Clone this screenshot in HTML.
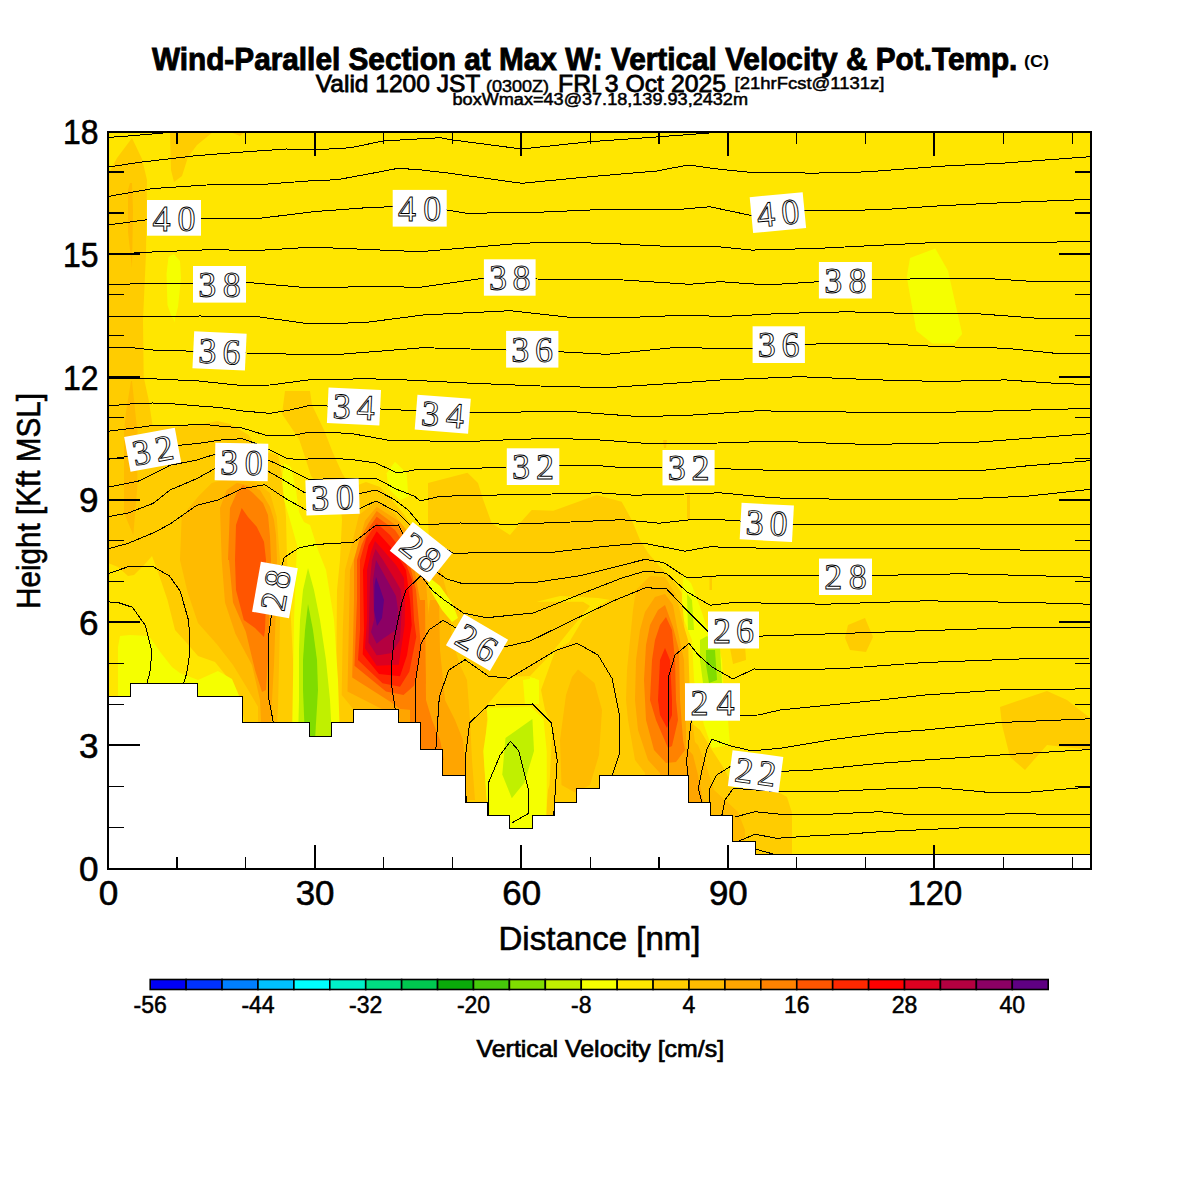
<!DOCTYPE html><html><head><meta charset="utf-8"><title>Wind-Parallel Section</title>
<style>html,body{margin:0;padding:0;background:#fff;}svg{display:block;}.s{font-family:"Liberation Sans",Arial,sans-serif;}.lab{font-family:"Liberation Serif","Times New Roman",serif;fill:none;stroke:#000;stroke-width:0.9px;}</style></head><body>
<svg width="1200" height="1200" viewBox="0 0 1200 1200">
<rect width="1200" height="1200" fill="#fff"/>
<defs><clipPath id="pc"><rect x="108" y="132" width="983" height="737"/></clipPath></defs>
<g clip-path="url(#pc)">
<rect x="108" y="132" width="983" height="737" fill="#FFE600"/>
<polygon points="108.0,175.0 117.0,158.0 132.0,138.0 142.0,159.0 147.0,180.0 146.0,253.0 143.0,320.0 143.7,377.0 148.7,400.0 152.5,425.0 173.0,427.0 198.7,425.0 217.5,421.0 230.0,424.0 248.7,435.0 257.0,450.0 267.0,452.0 278.0,455.0 283.0,480.0 286.0,517.0 287.0,560.0 290.0,600.0 292.0,640.0 294.0,680.0 296.0,740.0 248.0,740.0 240.0,698.0 228.0,678.0 215.0,662.0 198.0,656.0 185.0,641.0 175.0,630.0 167.5,600.0 158.0,572.0 152.0,556.0 145.0,564.0 134.0,575.0 128.0,576.0 118.0,567.0 108.0,563.0" fill="#FFCC00"/>
<polygon points="170.0,132.0 213.0,132.0 197.0,145.0 188.0,157.0 182.0,176.0 174.0,182.0 171.0,170.0" fill="#FFCC00"/>
<polygon points="230.0,132.0 244.6,132.0 240.0,136.0" fill="#FFCC00"/>
<polygon points="285.0,391.0 310.0,391.0 312.0,405.0 324.0,430.0 333.0,453.0 342.5,474.0 350.0,485.0 345.0,492.0 325.0,490.0 311.0,476.0 306.0,460.0 299.0,439.0 282.0,414.0" fill="#FFCC00"/>
<polygon points="340.0,500.0 353.0,487.0 366.0,482.0 380.0,487.0 392.0,500.0 402.0,512.0 415.0,530.0 430.0,545.0 450.0,560.0 465.0,600.0 462.0,650.0 455.0,700.0 448.0,760.0 336.0,760.0 336.0,700.0 337.0,590.0 340.0,560.0 342.0,520.0" fill="#FFCC00"/>
<polygon points="428.0,483.0 467.5,472.7 478.0,483.0 483.3,500.0 491.7,523.3 510.0,535.0 520.0,523.0 531.7,510.0 553.3,510.8 596.7,495.0 621.7,501.7 631.7,520.0 640.0,540.0 648.3,553.3 660.0,566.7 673.3,580.0 681.7,593.3 684.0,620.0 686.0,700.0 690.0,740.0 700.0,760.0 712.0,800.0 700.0,830.0 440.0,830.0 436.0,700.0 433.0,600.0 430.0,560.0 428.0,520.0" fill="#FFCC00"/>
<polygon points="663.0,440.0 667.0,440.0 666.0,448.0 664.0,448.0" fill="#FFCC00"/>
<polygon points="687.0,495.0 690.0,495.0 690.0,520.0 687.0,520.0" fill="#FFCC00"/>
<polygon points="709.5,576.0 712.0,576.0 712.0,590.0 709.5,590.0" fill="#FFCC00"/>
<polygon points="688.0,720.0 700.0,730.0 712.0,750.0 725.0,770.0 733.0,788.0 755.0,788.0 780.0,793.0 787.0,797.0 792.0,813.0 792.0,860.0 688.0,860.0" fill="#FFCC00"/>
<polygon points="848.0,625.0 865.0,618.0 873.0,637.0 866.0,652.0 850.0,650.0 845.0,638.0" fill="#FFCC00"/>
<polygon points="1000.0,707.0 1047.0,691.0 1067.0,700.0 1090.0,718.0 1090.0,750.0 1047.0,745.0 1025.0,770.0 1010.0,757.0 1002.0,725.0" fill="#FFCC00"/>
<polygon points="730.0,648.0 745.0,645.0 746.0,660.0 733.0,664.0" fill="#FFCC00"/>
<polygon points="536.7,601.7 583.0,601.7 590.0,606.0 570.0,630.0 550.0,655.0 530.0,676.0 511.7,676.7 500.0,690.0 487.0,705.0 487.0,720.0 484.0,760.0 487.0,800.0 492.0,814.0 546.0,814.0 548.0,790.0 549.5,785.0 552.5,725.0 545.0,710.0 541.0,690.0 555.5,650.0 569.0,642.5 582.5,620.0 600.0,605.0 610.0,600.0 598.0,598.0 560.0,596.0" fill="#FFE600"/>
<polygon points="130.0,183.0 132.0,183.0 133.0,211.0 132.0,268.0 128.0,232.0 128.0,190.0" fill="#FFBB00"/>
<polygon points="131.0,381.0 132.0,381.0 136.0,419.0 137.5,431.0 137.3,487.0 133.3,535.0 124.0,513.0 124.0,431.0 126.0,412.0" fill="#FFBB00"/>
<polygon points="376.7,501.0 395.3,515.0 405.8,532.5 420.0,545.0 435.0,565.0 438.5,660.0 442.0,740.0 353.0,740.0 353.3,709.0 341.7,695.0 342.8,630.0 345.0,570.0 353.3,538.3 359.0,515.0" fill="#FFBB00"/>
<polygon points="181.7,516.7 198.0,496.7 211.7,483.0 226.7,479.0 240.0,480.0 256.7,483.0 270.0,493.0 276.7,516.7 280.0,560.0 280.0,623.0 278.0,706.7 276.0,740.0 258.0,740.0 258.0,706.7 245.8,686.0 233.0,665.0 216.7,644.0 198.0,623.0 187.5,592.0 180.0,560.0" fill="#FFBB00"/>
<polygon points="578.0,669.5 594.5,683.0 602.0,710.0 599.0,755.0 590.0,785.0 575.0,792.5 561.5,785.0 560.0,740.0 566.0,695.0 572.0,677.0" fill="#FFBB00"/>
<polygon points="636.0,590.0 650.0,576.0 665.0,577.0 676.0,595.0 682.0,620.0 688.0,640.0 690.0,700.0 692.0,720.0 696.0,750.0 700.0,790.0 700.0,810.0 645.0,810.0 645.0,773.0 635.0,760.0 628.0,720.0 626.0,700.0 627.0,670.0 630.0,640.0 633.0,610.0" fill="#FFBB00"/>
<polygon points="438.0,560.0 449.0,600.0 452.0,640.0 460.0,665.0 467.0,680.0 470.0,720.0 472.0,760.0 475.0,800.0 430.0,800.0 430.0,600.0" fill="#FFBB00"/>
<polygon points="688.0,735.0 698.0,745.0 706.0,765.0 714.0,790.0 725.0,800.0 738.0,812.0 745.0,830.0 745.0,860.0 688.0,860.0" fill="#FFBB00"/>
<polygon points="376.7,506.8 400.0,522.0 415.0,540.0 425.0,570.0 430.3,636.7 431.5,706.7 428.0,740.0 400.0,740.0 400.0,718.3 347.5,691.5 350.0,570.0 356.8,550.0 365.0,520.8" fill="#FFA500"/>
<polygon points="220.0,508.0 226.7,490.0 236.7,483.0 246.7,485.0 260.0,490.0 270.0,506.7 274.0,520.0 276.0,535.0 277.0,560.0 276.0,600.0 275.0,635.0 274.0,665.0 272.0,700.0 270.0,740.0 262.0,740.0 260.0,700.0 252.0,665.0 235.4,633.8 225.0,602.5 221.7,560.0" fill="#FFA500"/>
<polygon points="645.0,612.0 655.0,597.0 665.0,594.0 673.0,605.0 677.0,627.0 684.0,660.0 685.0,700.0 686.0,730.0 686.0,750.0 696.0,790.0 696.0,810.0 660.0,810.0 660.0,773.0 648.0,760.0 638.0,730.0 635.0,700.0 636.0,660.0 640.0,630.0" fill="#FFA500"/>
<polygon points="430.0,600.0 439.0,600.0 440.0,650.0 445.0,700.0 455.0,720.0 463.0,740.0 466.0,775.0 466.0,800.0 420.0,800.0 420.0,680.0" fill="#FFA500"/>
<polygon points="684.0,745.0 693.0,755.0 698.0,775.0 703.0,800.0 700.0,860.0 684.0,860.0" fill="#FFA500"/>
<polygon points="376.7,511.0 398.0,527.0 410.0,545.0 420.0,600.0 423.3,613.3 425.7,683.3 411.7,710.0 400.0,709.0 390.7,702.0 352.2,677.5 354.0,600.0 354.0,560.0 359.2,540.0 368.5,523.2" fill="#FF8200"/>
<polygon points="228.0,560.0 230.0,508.0 236.7,493.0 243.0,485.0 253.0,493.0 263.0,503.0 268.0,515.0 270.0,537.0 271.0,560.0 270.0,590.0 269.0,620.0 268.0,660.0 266.0,690.0 262.0,692.0 255.0,670.0 245.8,631.7 233.0,602.5 229.0,560.0" fill="#FF8200"/>
<polygon points="650.0,625.0 658.0,610.0 665.0,605.0 673.0,627.0 679.0,650.0 680.0,700.0 683.0,740.0 685.0,750.0 676.0,762.0 666.0,763.0 654.0,750.0 646.0,720.0 644.0,680.0 646.0,645.0" fill="#FF8200"/>
<polygon points="418.0,600.0 425.0,600.0 425.5,650.0 426.0,700.0 432.0,720.0 440.0,740.0 444.0,760.0 410.0,760.0 410.0,700.0" fill="#FF8200"/>
<polygon points="376.7,516.8 395.0,530.0 405.0,545.0 416.0,590.0 418.7,620.0 421.0,648.3 414.0,685.7 403.5,695.0 386.0,691.5 354.5,665.8 357.0,600.0 357.0,560.0 361.5,545.0 369.7,526.7" fill="#FF5500"/>
<polygon points="235.0,560.0 236.0,525.0 241.7,508.0 248.0,517.0 256.7,526.7 264.0,541.7 266.0,560.0 266.0,600.0 265.0,630.0 264.0,637.0 255.0,628.0 243.8,620.0 236.0,590.0" fill="#FF5500"/>
<polygon points="655.0,640.0 660.0,625.0 666.0,617.0 672.0,630.0 675.0,660.0 676.0,700.0 678.0,720.0 672.0,746.0 668.0,748.0 656.0,720.0 650.0,700.0 652.0,660.0" fill="#FF5500"/>
<polygon points="376.7,523.2 390.0,535.0 400.0,548.0 412.0,580.0 414.0,620.0 416.3,636.7 409.3,671.7 400.0,686.8 382.5,683.3 358.0,660.0 360.0,630.0 360.0,560.0 366.2,538.3" fill="#FF2800"/>
<polygon points="665.0,648.0 670.0,660.0 672.0,700.0 672.0,715.0 667.0,728.0 660.0,715.0 658.0,700.0 660.0,660.0" fill="#FF2800"/>
<polygon points="376.7,531.3 388.3,544.2 395.3,552.3 406.0,570.0 410.0,600.0 411.7,625.0 407.0,655.3 400.0,676.3 379.0,674.0 362.7,654.2 364.0,630.0 363.0,570.0 368.5,545.3" fill="#FF0000"/>
<polygon points="375.0,541.0 383.0,550.0 396.0,565.0 404.0,578.0 405.0,600.0 404.7,625.0 398.8,664.7 376.7,665.8 365.0,648.3 367.0,620.0 367.0,570.0 371.0,552.0" fill="#DC0020"/>
<polygon points="375.5,549.0 383.0,560.0 394.0,578.0 401.0,590.0 402.0,605.0 400.0,640.0 392.0,653.0 380.0,655.0 376.7,655.3 368.5,642.5 370.0,580.0 372.0,560.0" fill="#B40040"/>
<polygon points="376.0,560.0 386.0,578.0 396.0,596.0 398.0,610.0 396.0,630.0 382.5,639.0 376.7,643.7 371.0,632.0 374.0,620.0 373.0,580.0" fill="#8C0064"/>
<polygon points="376.0,577.0 380.0,588.0 384.0,600.0 382.0,618.0 377.0,626.0 374.0,610.0 374.5,585.0" fill="#5F0082"/>
<polygon points="168.7,300.0 177.5,300.0 174.4,322.5" fill="#F5FF00"/>
<polygon points="173.8,254.0 180.0,261.0 181.0,278.0 178.0,307.0 175.0,318.0 172.0,318.0 167.5,305.0 166.5,274.0 168.5,257.0" fill="#F5FF00"/>
<polygon points="910.0,258.0 935.3,248.5 948.0,270.7 962.2,334.0 954.3,343.5 932.2,343.5 916.3,330.8 906.8,277.0" fill="#F5FF00"/>
<polygon points="120.0,636.0 130.0,635.0 149.0,636.0 161.0,653.0 172.0,667.0 180.0,673.0 198.0,680.0 218.0,671.0 232.0,679.0 240.0,698.0 240.0,740.0 118.0,740.0 118.0,673.0 118.0,647.0" fill="#F5FF00"/>
<polygon points="284.0,463.0 291.0,467.0 296.0,490.0 299.0,512.0 304.0,522.0 310.0,525.0 318.0,550.0 326.0,570.0 334.0,620.0 338.0,680.0 340.0,740.0 292.0,740.0 293.0,680.0 294.0,620.0 296.0,570.0 297.0,545.0 290.0,520.0 284.0,500.0 282.0,480.0" fill="#F5FF00"/>
<polygon points="430.0,578.0 440.0,586.0 452.0,603.0 458.0,618.0 452.0,622.0 442.0,610.0 433.0,595.0 428.0,585.0" fill="#F5FF00"/>
<polygon points="486.5,708.0 530.8,706.5 543.5,719.0 546.7,751.0 546.7,798.0 546.0,830.0 491.0,830.0 486.5,798.0 483.3,751.0 488.0,719.0" fill="#F5FF00"/>
<polygon points="523.0,680.0 535.0,678.0 539.0,703.0 525.0,705.0" fill="#F5FF00"/>
<polygon points="530.0,677.0 539.0,680.0 539.0,704.0 530.0,704.0" fill="#F5FF00"/>
<polygon points="683.3,576.0 691.0,583.0 700.0,606.7 706.0,625.0 716.0,636.0 722.0,660.0 724.0,700.0 728.0,720.0 730.0,745.0 712.0,748.0 704.0,725.0 698.0,700.0 694.0,680.0 693.0,660.0 692.0,640.0 684.0,620.0 682.0,600.0" fill="#F5FF00"/>
<polygon points="395.0,461.7 406.7,473.3 408.3,496.7 400.0,500.0 388.3,488.3 386.7,473.3" fill="#F5FF00"/>
<polygon points="308.0,568.0 314.0,590.0 320.0,620.0 326.0,660.0 330.0,700.0 332.0,740.0 298.0,740.0 299.0,700.0 299.0,650.0 300.0,620.0 303.0,590.0" fill="#C0F000"/>
<polygon points="532.4,719.0 534.0,751.0 524.5,782.5 511.8,798.3 502.3,774.6 505.5,738.0" fill="#C0F000"/>
<polygon points="687.0,594.0 692.0,600.0 694.0,630.0 688.0,630.0" fill="#C0F000"/>
<polygon points="700.0,640.0 707.0,636.0 720.0,648.0 722.0,683.0 703.0,683.0 700.0,660.0" fill="#C0F000"/>
<polygon points="308.0,604.0 313.0,630.0 317.0,660.0 318.0,690.0 315.0,740.0 305.0,740.0 303.0,690.0 303.0,660.0 305.0,630.0" fill="#80DC00"/>
<polygon points="706.0,650.0 715.0,650.0 717.0,680.0 709.0,683.0 706.0,665.0" fill="#80DC00"/>
<polyline points="108.0,137.5 132.0,135.7 175.0,132.0" fill="none" stroke="#000" stroke-width="1" shape-rendering="crispEdges"/>
<polyline points="108.0,167.0 140.0,162.3 196.0,155.7 246.7,151.7 286.7,149.0 316.0,149.8 350.7,147.7 383.0,141.0 440.0,137.7 453.0,140.0 521.7,149.0 590.0,141.7 660.0,136.7 723.0,132.0" fill="none" stroke="#000" stroke-width="1" shape-rendering="crispEdges"/>
<polyline points="108.0,196.5 153.3,188.5 206.7,185.0 265.3,184.2 308.0,181.0 337.3,179.7 366.7,174.3 398.3,168.3 420.0,169.8 450.0,173.3 521.7,183.3 590.0,176.7 656.7,171.0 688.3,165.0 720.0,169.3 751.7,172.5 815.0,173.1 865.7,171.9 941.7,166.2 1005.0,163.0 1090.0,156.7" fill="none" stroke="#000" stroke-width="1" shape-rendering="crispEdges"/>
<polyline points="108.0,225.0 147.0,219.7 201.0,218.3 260.0,218.3 313.3,211.7 366.7,207.7 391.7,206.7 446.7,210.0 466.7,213.3 536.7,212.3 606.7,209.3 673.3,210.0 710.0,206.7 720.0,208.9 750.0,215.2 805.5,210.5 878.3,209.9 941.7,205.7 1005.0,202.6 1090.0,199.4" fill="none" stroke="#000" stroke-width="1" shape-rendering="crispEdges"/>
<polyline points="108.0,255.0 140.0,252.5 206.7,249.8 260.0,250.3 313.3,247.1 340.0,248.3 420.0,251.7 520.0,243.3 553.3,242.3 606.7,243.3 673.3,246.7 720.0,246.9 751.7,250.1 815.0,248.5 878.3,245.3 941.7,242.2 1005.0,242.8 1090.0,241.5" fill="none" stroke="#000" stroke-width="1" shape-rendering="crispEdges"/>
<polyline points="108.0,285.0 153.3,283.0 193.0,283.0 246.0,282.3 300.0,287.1 340.0,287.3 366.7,286.3 420.0,287.3 483.3,278.3 536.7,279.0 623.3,280.0 690.0,284.3 720.0,281.7 767.5,284.9 818.8,281.7 872.0,279.5 941.7,278.6 989.0,278.6 1036.7,281.7 1090.0,281.7" fill="none" stroke="#000" stroke-width="1" shape-rendering="crispEdges"/>
<polyline points="108.0,317.0 130.0,316.0 152.5,317.0 200.0,316.0 260.0,317.0 308.0,323.7 340.0,323.3 366.7,322.3 423.3,315.0 510.0,310.7 573.3,317.7 623.3,317.7 690.0,315.0 720.0,316.6 783.3,313.4 846.7,311.8 910.0,313.4 973.3,313.4 1036.7,318.2 1090.0,318.8" fill="none" stroke="#000" stroke-width="1" shape-rendering="crispEdges"/>
<polyline points="108.0,347.5 130.0,347.5 152.5,350.0 186.0,351.0 246.0,353.0 313.3,354.7 340.0,354.3 423.3,347.7 506.0,350.0 558.3,351.7 606.7,354.3 673.3,347.7 720.0,348.2 752.0,349.0 804.9,344.1 878.3,343.5 941.7,346.7 1005.0,348.2 1052.5,353.0 1090.0,353.0" fill="none" stroke="#000" stroke-width="1" shape-rendering="crispEdges"/>
<polyline points="108.0,378.0 152.5,378.8 198.8,381.0 242.5,385.6 270.0,385.0 308.0,380.0 366.7,378.7 406.7,380.0 473.3,383.3 540.0,386.0 606.7,387.7 673.3,383.3 720.0,380.0 799.2,376.7 878.3,379.9 941.7,381.5 1005.0,379.9 1052.5,383.1 1090.0,384.7" fill="none" stroke="#000" stroke-width="1" shape-rendering="crispEdges"/>
<polyline points="108.0,406.0 130.0,404.0 152.5,403.0 172.5,403.8 198.8,406.0 220.0,407.5 242.5,411.0 270.0,413.3 290.0,410.0 308.3,405.8 327.0,406.0 380.8,409.0 416.7,410.8 470.7,412.3 573.3,411.7 640.0,416.7 690.0,415.2 757.5,410.8 825.0,411.8 926.3,412.8 1027.5,410.1 1090.0,408.4" fill="none" stroke="#000" stroke-width="1" shape-rendering="crispEdges"/>
<polyline points="108.0,431.3 153.3,425.5 170.0,425.3 206.7,424.7 219.3,426.0 242.0,428.0 266.0,435.3 290.0,436.0 310.0,432.0 350.0,433.3 391.7,440.8 420.0,440.8 465.0,441.7 510.0,439.7 553.3,438.3 600.0,440.0 645.0,443.3 690.0,443.9 733.0,442.5 774.4,441.2 868.9,444.5 976.9,442.2 1044.4,437.1 1090.0,433.7" fill="none" stroke="#000" stroke-width="1" shape-rendering="crispEdges"/>
<polyline points="108.0,459.3 124.0,457.0 179.3,445.3 199.3,443.3 220.7,440.0 242.0,438.7 255.3,443.3 268.7,449.3 287.3,458.7 298.0,459.3 333.3,458.3 353.3,459.7 376.0,463.0 397.3,473.0 420.0,469.0 450.0,469.0 475.0,468.3 506.7,467.0 559.2,465.3 600.0,465.8 621.7,467.5 662.0,468.0 715.0,468.5 791.2,470.9 892.5,470.9 976.9,470.9 1027.5,465.8 1090.0,460.7" fill="none" stroke="#000" stroke-width="1" shape-rendering="crispEdges"/>
<polyline points="108.0,487.3 140.0,480.7 170.0,465.3 196.7,460.0 214.7,454.4 268.0,460.0 288.0,469.0 308.7,479.3 357.3,478.3 376.0,478.3 396.0,489.0 414.7,496.3 420.0,501.0 440.0,496.3 486.7,495.2 552.0,494.0 598.7,492.8 633.7,495.2 685.0,494.0 720.0,492.8 774.4,497.9 858.7,499.6 943.1,499.6 1027.5,496.2 1090.0,489.4" fill="none" stroke="#000" stroke-width="1" shape-rendering="crispEdges"/>
<polyline points="108.0,516.7 128.2,513.0 153.3,503.3 170.0,490.0 196.7,478.7 214.7,468.7 267.3,470.7 286.0,481.5 304.7,492.7 358.7,493.7 376.0,490.0 393.3,499.0 408.0,509.7 420.0,524.3 433.3,524.3 460.0,523.0 510.0,524.3 570.7,522.0 622.0,519.7 659.3,523.2 690.0,519.8 720.0,519.7 740.0,521.0 793.0,524.2 892.5,524.9 976.9,524.9 1090.0,524.9" fill="none" stroke="#000" stroke-width="1" shape-rendering="crispEdges"/>
<polyline points="108.0,548.8 128.2,543.3 154.2,532.5 170.0,524.0 196.7,505.3 218.0,500.0 242.0,488.7 264.7,484.7 286.0,498.7 307.3,510.7 360.0,508.3 376.0,501.0 397.3,512.3 409.3,524.3 430.0,540.0 454.0,553.5 486.7,552.3 552.0,552.3 603.3,546.5 643.0,543.0 685.0,551.2 710.0,546.8 774.4,548.5 858.7,548.5 960.0,548.5 1027.5,550.2 1090.0,550.2" fill="none" stroke="#000" stroke-width="1" shape-rendering="crispEdges"/>
<polyline points="108.0,573.7 130.3,566.0 152.0,566.0 169.3,575.8 180.2,591.0 188.8,621.3 190.0,651.7 186.7,673.3 183.4,684.0" fill="none" stroke="#000" stroke-width="1" shape-rendering="crispEdges"/>
<polyline points="273.3,722.0 268.0,695.0 268.0,640.8 271.2,617.0 275.0,590.0 284.2,557.4 299.3,547.7 316.7,544.4 353.5,542.3 375.3,525.7 398.7,525.0 402.7,533.7 420.0,555.0 438.5,573.3 446.7,579.0 463.3,583.8 533.3,582.7 580.0,575.7 626.7,564.0 645.3,559.3 664.0,562.8 687.3,578.0 723.7,575.5 819.0,575.5 872.3,575.5 960.0,573.8 1027.5,575.5 1090.0,577.2" fill="none" stroke="#000" stroke-width="1" shape-rendering="crispEdges"/>
<polyline points="108.0,601.8 119.5,603.0 132.5,607.3 145.5,625.7 152.0,651.7 149.8,673.3 146.6,684.0" fill="none" stroke="#000" stroke-width="1" shape-rendering="crispEdges"/>
<polyline points="395.3,710.0 391.3,683.3 391.8,662.3 394.0,640.0 398.0,620.0 402.0,602.0 406.0,590.0 421.0,575.7 432.7,590.8 444.3,600.0 463.3,613.0 486.7,617.7 533.3,613.0 580.0,594.3 622.0,578.0 645.3,571.0 666.3,573.3 687.3,592.0 710.0,605.2 733.9,602.5 825.0,604.2 926.3,600.8 1027.5,602.5 1090.0,604.2" fill="none" stroke="#000" stroke-width="1" shape-rendering="crispEdges"/>
<polyline points="415.2,723.0 415.2,683.3 418.7,660.0 421.0,643.7 429.2,629.7 443.2,620.3 476.0,640.0 504.7,646.8 530.3,641.0 568.3,622.3 615.0,600.2 645.3,587.8 666.3,588.5 682.7,606.0 696.7,620.0 708.3,631.7 735.0,633.0 757.5,636.2 858.7,632.9 960.0,629.5 1027.5,627.5 1090.0,627.5" fill="none" stroke="#000" stroke-width="1" shape-rendering="crispEdges"/>
<polyline points="435.8,750.0 439.3,697.0 448.7,670.2 465.0,659.7 488.3,676.0 509.3,678.3 532.7,664.3 556.0,650.3 577.0,643.3 598.0,655.0 612.0,678.3 619.0,713.3 619.0,755.3 612.0,776.0" fill="none" stroke="#000" stroke-width="1" shape-rendering="crispEdges"/>
<polyline points="668.0,776.0 668.0,678.3 675.0,655.0 689.0,643.3 698.3,655.0 712.0,667.0 733.0,679.0 754.0,669.0 800.0,670.0 850.0,668.0 925.0,662.5 1025.0,658.8 1090.0,658.0" fill="none" stroke="#000" stroke-width="1" shape-rendering="crispEdges"/>
<polyline points="466.2,802.0 465.0,760.0 469.7,722.7 488.3,705.2 532.7,704.0 551.3,722.7 557.2,760.0 553.7,816.0" fill="none" stroke="#000" stroke-width="1" shape-rendering="crispEdges"/>
<polyline points="488.3,816.0 488.3,783.3 500.0,755.3 510.5,741.3 518.7,750.7 528.0,788.0 528.0,813.7 511.7,823.0" fill="none" stroke="#000" stroke-width="1" shape-rendering="crispEdges"/>
<polyline points="689.0,802.0 686.7,760.0 691.3,720.3 712.0,702.0 740.0,715.3 758.3,715.0 780.0,710.0 830.0,705.0 880.0,700.0 925.0,695.0 1000.0,690.0 1090.0,688.8" fill="none" stroke="#000" stroke-width="1" shape-rendering="crispEdges"/>
<polyline points="701.7,802.0 698.3,788.3 701.7,771.7 706.7,750.0 711.7,739.2 730.0,745.8 751.7,750.8 780.0,748.3 830.0,740.0 880.0,733.3 925.0,730.0 1000.0,722.5 1090.0,718.8" fill="none" stroke="#000" stroke-width="1" shape-rendering="crispEdges"/>
<polyline points="709.2,802.0 710.0,788.3 716.7,775.0 730.0,766.7 781.7,771.3 813.3,770.0 846.7,766.7 880.0,763.3 925.0,760.0 1000.0,755.0 1090.0,749.5" fill="none" stroke="#000" stroke-width="1" shape-rendering="crispEdges"/>
<polyline points="721.7,816.0 725.0,800.0 733.3,788.3 778.3,791.7 813.3,791.7 846.7,790.8 880.0,789.2 935.0,787.5 990.0,792.5 1025.0,792.5 1090.0,787.0" fill="none" stroke="#000" stroke-width="1" shape-rendering="crispEdges"/>
<polyline points="735.0,817.0 755.0,811.7 780.0,814.2 813.3,815.0 846.7,813.3 880.0,811.7 912.5,815.0 1025.0,813.8 1090.0,815.0" fill="none" stroke="#000" stroke-width="1" shape-rendering="crispEdges"/>
<polyline points="736.7,842.0 755.0,834.2 776.7,838.3 813.3,835.8 846.7,834.2 880.0,831.7 970.0,827.5 1025.0,827.5 1090.0,828.0" fill="none" stroke="#000" stroke-width="1" shape-rendering="crispEdges"/>
<polyline points="755.8,849.2 776.7,855.0" fill="none" stroke="#000" stroke-width="1" shape-rendering="crispEdges"/>
<polygon points="106.0,870.0 106.0,696.4 130.5,696.4 130.5,683.2 152.8,683.2 152.8,683.2 175.1,683.2 175.1,683.2 197.4,683.2 197.4,696.4 219.8,696.4 219.8,696.4 242.1,696.4 242.1,722.8 264.4,722.8 264.4,722.8 286.7,722.8 286.7,722.8 309.0,722.8 309.0,736.0 331.3,736.0 331.3,722.8 353.6,722.8 353.6,709.6 375.9,709.6 375.9,709.6 398.2,709.6 398.2,722.8 420.5,722.8 420.5,749.2 442.8,749.2 442.8,775.6 465.2,775.6 465.2,802.0 487.5,802.0 487.5,815.2 509.8,815.2 509.8,828.4 532.1,828.4 532.1,815.2 554.4,815.2 554.4,802.0 576.7,802.0 576.7,788.8 599.0,788.8 599.0,775.6 621.3,775.6 621.3,775.6 643.6,775.6 643.6,775.6 666.0,775.6 666.0,775.6 688.3,775.6 688.3,802.0 710.6,802.0 710.6,815.2 732.9,815.2 732.9,841.6 755.2,841.6 755.2,854.8 777.5,854.8 777.5,854.8 799.8,854.8 799.8,854.8 822.1,854.8 822.1,854.8 844.4,854.8 844.4,854.8 866.7,854.8 866.7,854.8 889.0,854.8 889.0,854.8 911.4,854.8 911.4,854.8 933.7,854.8 933.7,854.8 956.0,854.8 956.0,854.8 978.3,854.8 978.3,854.8 1000.6,854.8 1000.6,854.8 1022.9,854.8 1022.9,854.8 1045.2,854.8 1045.2,854.8 1067.5,854.8 1067.5,854.8 1092.0,854.8 1092.0,870.0" fill="#fff" stroke="#000" stroke-width="1" shape-rendering="crispEdges"/>
</g>
<g transform="translate(174.0,217.9) rotate(0.0)"><rect x="-27.0" y="-17.9" width="54.0" height="35.7" fill="#fff"/><text class="lab" x="0" y="12.6" text-anchor="middle" font-size="36" textLength="43.2" lengthAdjust="spacing">40</text></g>
<g transform="translate(419.7,208.3) rotate(0.0)"><rect x="-27.0" y="-18.4" width="54.0" height="36.7" fill="#fff"/><text class="lab" x="0" y="12.6" text-anchor="middle" font-size="36" textLength="43.2" lengthAdjust="spacing">40</text></g>
<g transform="translate(777.9,212.6) rotate(-5.5)"><rect x="-26.6" y="-18.0" width="53.2" height="36.0" fill="#fff"/><text class="lab" x="0" y="12.6" text-anchor="middle" font-size="36" textLength="42.6" lengthAdjust="spacing">40</text></g>
<g transform="translate(219.5,284.3) rotate(0.0)"><rect x="-26.5" y="-18.3" width="53.0" height="36.6" fill="#fff"/><text class="lab" x="0" y="12.6" text-anchor="middle" font-size="36" textLength="42.4" lengthAdjust="spacing">38</text></g>
<g transform="translate(509.8,277.5) rotate(0.0)"><rect x="-25.9" y="-18.2" width="51.7" height="36.4" fill="#fff"/><text class="lab" x="0" y="12.6" text-anchor="middle" font-size="36" textLength="41.4" lengthAdjust="spacing">38</text></g>
<g transform="translate(845.4,280.2) rotate(0.0)"><rect x="-26.5" y="-18.2" width="53.0" height="36.5" fill="#fff"/><text class="lab" x="0" y="12.6" text-anchor="middle" font-size="36" textLength="42.4" lengthAdjust="spacing">38</text></g>
<g transform="translate(219.5,350.9) rotate(2.7)"><rect x="-26.2" y="-18.5" width="52.5" height="37.0" fill="#fff"/><text class="lab" x="0" y="12.6" text-anchor="middle" font-size="36" textLength="42.0" lengthAdjust="spacing">36</text></g>
<g transform="translate(532.2,349.3) rotate(0.0)"><rect x="-26.1" y="-18.4" width="52.3" height="36.7" fill="#fff"/><text class="lab" x="0" y="12.6" text-anchor="middle" font-size="36" textLength="41.8" lengthAdjust="spacing">36</text></g>
<g transform="translate(778.7,344.7) rotate(0.0)"><rect x="-26.1" y="-18.4" width="52.3" height="36.7" fill="#fff"/><text class="lab" x="0" y="12.6" text-anchor="middle" font-size="36" textLength="41.8" lengthAdjust="spacing">36</text></g>
<g transform="translate(353.9,406.5) rotate(2.7)"><rect x="-26.2" y="-17.8" width="52.5" height="35.5" fill="#fff"/><text class="lab" x="0" y="12.6" text-anchor="middle" font-size="36" textLength="42.0" lengthAdjust="spacing">34</text></g>
<g transform="translate(442.8,414.2) rotate(4.5)"><rect x="-26.8" y="-17.5" width="53.5" height="35.0" fill="#fff"/><text class="lab" x="0" y="12.6" text-anchor="middle" font-size="36" textLength="42.8" lengthAdjust="spacing">34</text></g>
<g transform="translate(152.7,449.7) rotate(-10.5)"><rect x="-25.8" y="-17.6" width="51.5" height="35.3" fill="#fff"/><text class="lab" x="0" y="12.6" text-anchor="middle" font-size="36" textLength="41.2" lengthAdjust="spacing">32</text></g>
<g transform="translate(241.5,462.0) rotate(1.0)"><rect x="-26.5" y="-18.7" width="53.0" height="37.4" fill="#fff"/><text class="lab" x="0" y="12.6" text-anchor="middle" font-size="36" textLength="42.4" lengthAdjust="spacing">30</text></g>
<g transform="translate(332.5,496.9) rotate(-1.8)"><rect x="-26.6" y="-17.6" width="53.3" height="35.3" fill="#fff"/><text class="lab" x="0" y="12.6" text-anchor="middle" font-size="36" textLength="42.6" lengthAdjust="spacing">30</text></g>
<g transform="translate(533.0,466.7) rotate(0.0)"><rect x="-26.2" y="-18.4" width="52.5" height="36.7" fill="#fff"/><text class="lab" x="0" y="12.6" text-anchor="middle" font-size="36" textLength="42.0" lengthAdjust="spacing">32</text></g>
<g transform="translate(688.6,467.7) rotate(0.0)"><rect x="-26.1" y="-17.7" width="52.1" height="35.4" fill="#fff"/><text class="lab" x="0" y="12.6" text-anchor="middle" font-size="36" textLength="41.7" lengthAdjust="spacing">32</text></g>
<g transform="translate(766.8,522.4) rotate(3.0)"><rect x="-26.2" y="-18.2" width="52.4" height="36.5" fill="#fff"/><text class="lab" x="0" y="12.6" text-anchor="middle" font-size="36" textLength="41.9" lengthAdjust="spacing">30</text></g>
<g transform="translate(845.5,576.8) rotate(0.0)"><rect x="-26.5" y="-18.2" width="53.0" height="36.4" fill="#fff"/><text class="lab" x="0" y="12.6" text-anchor="middle" font-size="36" textLength="42.4" lengthAdjust="spacing">28</text></g>
<g transform="translate(275.0,590.0) rotate(-80.0)"><rect x="-25.4" y="-18.8" width="50.7" height="37.5" fill="#fff"/><text class="lab" x="0" y="12.6" text-anchor="middle" font-size="36" textLength="40.6" lengthAdjust="spacing">28</text></g>
<g transform="translate(421.0,552.0) rotate(38.6)"><rect x="-25.2" y="-18.4" width="50.4" height="36.9" fill="#fff"/><text class="lab" x="0" y="12.6" text-anchor="middle" font-size="36" textLength="40.3" lengthAdjust="spacing">28</text></g>
<g transform="translate(477.0,642.5) rotate(30.3)"><rect x="-25.5" y="-18.0" width="51.0" height="36.0" fill="#fff"/><text class="lab" x="0" y="12.6" text-anchor="middle" font-size="36" textLength="40.8" lengthAdjust="spacing">26</text></g>
<g transform="translate(733.5,630.0) rotate(0.0)"><rect x="-25.5" y="-18.5" width="51.0" height="37.0" fill="#fff"/><text class="lab" x="0" y="12.6" text-anchor="middle" font-size="36" textLength="40.8" lengthAdjust="spacing">26</text></g>
<g transform="translate(712.5,702.0) rotate(0.0)"><rect x="-27.5" y="-18.8" width="55.0" height="37.5" fill="#fff"/><text class="lab" x="0" y="12.6" text-anchor="middle" font-size="36" textLength="44.0" lengthAdjust="spacing">24</text></g>
<g transform="translate(755.6,771.5) rotate(7.5)"><rect x="-25.6" y="-18.1" width="51.2" height="36.2" fill="#fff"/><text class="lab" x="0" y="12.6" text-anchor="middle" font-size="36" textLength="41.0" lengthAdjust="spacing">22</text></g>
<rect x="108" y="132" width="983" height="737" fill="none" stroke="#000" stroke-width="2" shape-rendering="crispEdges"/>
<g stroke="#000" shape-rendering="crispEdges"><line x1="176.9" y1="869" x2="176.9" y2="857" stroke-width="1.2"/><line x1="176.9" y1="132" x2="176.9" y2="144" stroke-width="1.2"/><line x1="245.7" y1="869" x2="245.7" y2="857" stroke-width="1.2"/><line x1="245.7" y1="132" x2="245.7" y2="144" stroke-width="1.2"/><line x1="314.6" y1="869" x2="314.6" y2="845" stroke-width="2.0"/><line x1="314.6" y1="132" x2="314.6" y2="156" stroke-width="2.0"/><line x1="383.5" y1="869" x2="383.5" y2="857" stroke-width="1.2"/><line x1="383.5" y1="132" x2="383.5" y2="144" stroke-width="1.2"/><line x1="452.3" y1="869" x2="452.3" y2="857" stroke-width="1.2"/><line x1="452.3" y1="132" x2="452.3" y2="144" stroke-width="1.2"/><line x1="521.2" y1="869" x2="521.2" y2="845" stroke-width="2.0"/><line x1="521.2" y1="132" x2="521.2" y2="156" stroke-width="2.0"/><line x1="590.1" y1="869" x2="590.1" y2="857" stroke-width="1.2"/><line x1="590.1" y1="132" x2="590.1" y2="144" stroke-width="1.2"/><line x1="659.0" y1="869" x2="659.0" y2="857" stroke-width="1.2"/><line x1="659.0" y1="132" x2="659.0" y2="144" stroke-width="1.2"/><line x1="727.8" y1="869" x2="727.8" y2="845" stroke-width="2.0"/><line x1="727.8" y1="132" x2="727.8" y2="156" stroke-width="2.0"/><line x1="796.7" y1="869" x2="796.7" y2="857" stroke-width="1.2"/><line x1="796.7" y1="132" x2="796.7" y2="144" stroke-width="1.2"/><line x1="865.6" y1="869" x2="865.6" y2="857" stroke-width="1.2"/><line x1="865.6" y1="132" x2="865.6" y2="144" stroke-width="1.2"/><line x1="934.4" y1="869" x2="934.4" y2="845" stroke-width="2.0"/><line x1="934.4" y1="132" x2="934.4" y2="156" stroke-width="2.0"/><line x1="1003.3" y1="869" x2="1003.3" y2="857" stroke-width="1.2"/><line x1="1003.3" y1="132" x2="1003.3" y2="144" stroke-width="1.2"/><line x1="1072.2" y1="869" x2="1072.2" y2="857" stroke-width="1.2"/><line x1="1072.2" y1="132" x2="1072.2" y2="144" stroke-width="1.2"/><line x1="108" y1="827.1" x2="124" y2="827.1" stroke-width="1.2"/><line x1="1091" y1="827.1" x2="1075" y2="827.1" stroke-width="1.2"/><line x1="108" y1="786.1" x2="124" y2="786.1" stroke-width="1.2"/><line x1="1091" y1="786.1" x2="1075" y2="786.1" stroke-width="1.2"/><line x1="108" y1="745.2" x2="140" y2="745.2" stroke-width="2.0"/><line x1="1091" y1="745.2" x2="1059" y2="745.2" stroke-width="2.0"/><line x1="108" y1="704.2" x2="124" y2="704.2" stroke-width="1.2"/><line x1="1091" y1="704.2" x2="1075" y2="704.2" stroke-width="1.2"/><line x1="108" y1="663.3" x2="124" y2="663.3" stroke-width="1.2"/><line x1="1091" y1="663.3" x2="1075" y2="663.3" stroke-width="1.2"/><line x1="108" y1="622.3" x2="140" y2="622.3" stroke-width="2.0"/><line x1="1091" y1="622.3" x2="1059" y2="622.3" stroke-width="2.0"/><line x1="108" y1="581.4" x2="124" y2="581.4" stroke-width="1.2"/><line x1="1091" y1="581.4" x2="1075" y2="581.4" stroke-width="1.2"/><line x1="108" y1="540.4" x2="124" y2="540.4" stroke-width="1.2"/><line x1="1091" y1="540.4" x2="1075" y2="540.4" stroke-width="1.2"/><line x1="108" y1="499.5" x2="140" y2="499.5" stroke-width="2.0"/><line x1="1091" y1="499.5" x2="1059" y2="499.5" stroke-width="2.0"/><line x1="108" y1="458.6" x2="124" y2="458.6" stroke-width="1.2"/><line x1="1091" y1="458.6" x2="1075" y2="458.6" stroke-width="1.2"/><line x1="108" y1="417.6" x2="124" y2="417.6" stroke-width="1.2"/><line x1="1091" y1="417.6" x2="1075" y2="417.6" stroke-width="1.2"/><line x1="108" y1="376.7" x2="140" y2="376.7" stroke-width="2.0"/><line x1="1091" y1="376.7" x2="1059" y2="376.7" stroke-width="2.0"/><line x1="108" y1="335.7" x2="124" y2="335.7" stroke-width="1.2"/><line x1="1091" y1="335.7" x2="1075" y2="335.7" stroke-width="1.2"/><line x1="108" y1="294.8" x2="124" y2="294.8" stroke-width="1.2"/><line x1="1091" y1="294.8" x2="1075" y2="294.8" stroke-width="1.2"/><line x1="108" y1="253.8" x2="140" y2="253.8" stroke-width="2.0"/><line x1="1091" y1="253.8" x2="1059" y2="253.8" stroke-width="2.0"/><line x1="108" y1="212.9" x2="124" y2="212.9" stroke-width="1.2"/><line x1="1091" y1="212.9" x2="1075" y2="212.9" stroke-width="1.2"/><line x1="108" y1="172.0" x2="124" y2="172.0" stroke-width="1.2"/><line x1="1091" y1="172.0" x2="1075" y2="172.0" stroke-width="1.2"/></g>
<g class="s" font-size="34.5" fill="#000" stroke="#000" stroke-width="0.6">
<text x="98.5" y="880.9" text-anchor="end" textLength="19.5" lengthAdjust="spacingAndGlyphs">0</text>
<text x="98.5" y="758.1" text-anchor="end" textLength="19.5" lengthAdjust="spacingAndGlyphs">3</text>
<text x="98.5" y="635.2" text-anchor="end" textLength="19.5" lengthAdjust="spacingAndGlyphs">6</text>
<text x="98.5" y="512.4" text-anchor="end" textLength="19.5" lengthAdjust="spacingAndGlyphs">9</text>
<text x="98.5" y="389.6" text-anchor="end" textLength="35.5" lengthAdjust="spacingAndGlyphs">12</text>
<text x="98.5" y="266.7" text-anchor="end" textLength="35.5" lengthAdjust="spacingAndGlyphs">15</text>
<text x="98.5" y="143.9" text-anchor="end" textLength="35.5" lengthAdjust="spacingAndGlyphs">18</text>
<text x="108.5" y="905.3" text-anchor="middle" textLength="19.5" lengthAdjust="spacingAndGlyphs">0</text>
<text x="315.1" y="905.3" text-anchor="middle" textLength="38.8" lengthAdjust="spacingAndGlyphs">30</text>
<text x="521.7" y="905.3" text-anchor="middle" textLength="38.8" lengthAdjust="spacingAndGlyphs">60</text>
<text x="728.3" y="905.3" text-anchor="middle" textLength="38.8" lengthAdjust="spacingAndGlyphs">90</text>
<text x="934.9" y="905.3" text-anchor="middle" textLength="54.5" lengthAdjust="spacingAndGlyphs">120</text>
</g>
<text class="s" x="599.5" y="949.6" font-size="33" stroke="#000" stroke-width="0.6" text-anchor="middle" textLength="202" lengthAdjust="spacingAndGlyphs">Distance [nm]</text>
<text class="s" transform="translate(40,501) rotate(-90)" x="0" y="0" font-size="33" stroke="#000" stroke-width="0.6" text-anchor="middle" textLength="216" lengthAdjust="spacingAndGlyphs">Height [Kft MSL]</text>
<text class="s" x="151.9" y="69.7" font-size="30.5" font-weight="bold" textLength="865.5" lengthAdjust="spacingAndGlyphs" stroke="#000" stroke-width="0.9">Wind-Parallel Section at Max W: Vertical Velocity &amp; Pot.Temp.</text>
<text class="s" x="1024" y="67" font-size="17" font-weight="bold" textLength="25" lengthAdjust="spacingAndGlyphs">(C)</text>
<text class="s" x="315.8" y="92" font-size="24" stroke="#000" stroke-width="0.8" textLength="164.5" lengthAdjust="spacingAndGlyphs">Valid 1200 JST</text>
<text class="s" x="486" y="92" font-size="17" stroke="#000" stroke-width="0.5" textLength="63" lengthAdjust="spacingAndGlyphs">(0300Z)</text>
<text class="s" x="558" y="92" font-size="24" stroke="#000" stroke-width="0.8" textLength="168" lengthAdjust="spacingAndGlyphs">FRI 3 Oct 2025</text>
<text class="s" x="734.5" y="89" font-size="17" stroke="#000" stroke-width="0.5" textLength="150" lengthAdjust="spacingAndGlyphs">[21hrFcst@1131z]</text>
<text class="s" x="452.5" y="105" font-size="16" stroke="#000" stroke-width="0.5" textLength="295.5" lengthAdjust="spacingAndGlyphs">boxWmax=43@37.18,139.93,2432m</text>
<g stroke="#000" stroke-width="1.6"><rect x="150.20" y="979.5" width="35.92" height="10" fill="#0000F5"/><rect x="186.12" y="979.5" width="35.92" height="10" fill="#0032FF"/><rect x="222.04" y="979.5" width="35.92" height="10" fill="#0080FF"/><rect x="257.96" y="979.5" width="35.92" height="10" fill="#00C0FF"/><rect x="293.88" y="979.5" width="35.92" height="10" fill="#00FFFF"/><rect x="329.80" y="979.5" width="35.92" height="10" fill="#00F0C8"/><rect x="365.72" y="979.5" width="35.92" height="10" fill="#00DC82"/><rect x="401.64" y="979.5" width="35.92" height="10" fill="#00C850"/><rect x="437.56" y="979.5" width="35.92" height="10" fill="#0AAA0A"/><rect x="473.48" y="979.5" width="35.92" height="10" fill="#46C80A"/><rect x="509.40" y="979.5" width="35.92" height="10" fill="#80DC00"/><rect x="545.32" y="979.5" width="35.92" height="10" fill="#C0F000"/><rect x="581.24" y="979.5" width="35.92" height="10" fill="#F5FF00"/><rect x="617.16" y="979.5" width="35.92" height="10" fill="#FFE600"/><rect x="653.08" y="979.5" width="35.92" height="10" fill="#FFCC00"/><rect x="689.00" y="979.5" width="35.92" height="10" fill="#FFBB00"/><rect x="724.92" y="979.5" width="35.92" height="10" fill="#FFA500"/><rect x="760.84" y="979.5" width="35.92" height="10" fill="#FF8200"/><rect x="796.76" y="979.5" width="35.92" height="10" fill="#FF5500"/><rect x="832.68" y="979.5" width="35.92" height="10" fill="#FF2800"/><rect x="868.60" y="979.5" width="35.92" height="10" fill="#FF0000"/><rect x="904.52" y="979.5" width="35.92" height="10" fill="#DC0020"/><rect x="940.44" y="979.5" width="35.92" height="10" fill="#B40040"/><rect x="976.36" y="979.5" width="35.92" height="10" fill="#8C0064"/><rect x="1012.28" y="979.5" width="35.92" height="10" fill="#5F0082"/></g>
<g class="s" font-size="23" fill="#000" stroke="#000" stroke-width="0.5" text-anchor="middle">
<text x="150.2" y="1012.5">-56</text>
<text x="258.0" y="1012.5">-44</text>
<text x="365.7" y="1012.5">-32</text>
<text x="473.5" y="1012.5">-20</text>
<text x="581.2" y="1012.5">-8</text>
<text x="689.0" y="1012.5">4</text>
<text x="796.8" y="1012.5">16</text>
<text x="904.5" y="1012.5">28</text>
<text x="1012.3" y="1012.5">40</text>
</g>
<text class="s" x="600.3" y="1056.5" font-size="24" stroke="#000" stroke-width="0.7" text-anchor="middle" textLength="247.5" lengthAdjust="spacingAndGlyphs">Vertical Velocity [cm/s]</text>
</svg></body></html>
